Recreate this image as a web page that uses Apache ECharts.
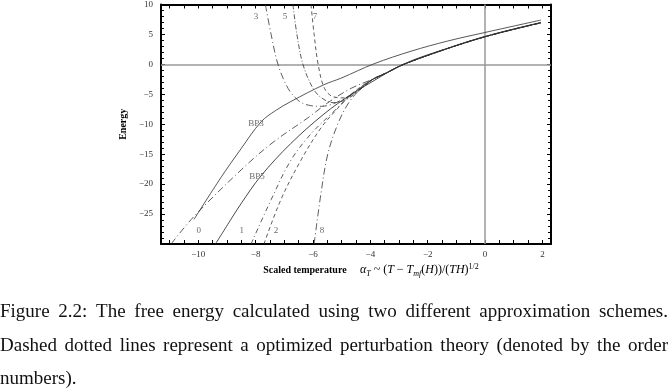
<!DOCTYPE html>
<html>
<head>
<meta charset="utf-8">
<script src="https://cdn.jsdelivr.net/npm/echarts@6/dist/echarts.min.js"></script>
<style>
html,body{margin:0;padding:0;background:#fff;}
#chart{width:670px;height:388px;}
</style>
</head>
<body>
<div id="chart"></div>
<script>
// 坐标轴刻度
const xLabelValues = [-10, -8, -6, -4, -2, 0, 2];
const xTickValues = [-11, -10.5, -10, -9.5, -9, -8.5, -8, -7.5, -7, -6.5, -6, -5.5, -5, -4.5, -4, -3.5, -3, -2.5, -2, -1.5, -1, -0.5, 0, 0.5, 1, 1.5, 2];

// 实线: BP3, BP5
const bp3 = [[-10.15, -25.9], [-9.21, -18.9], [-8.51, -14.1], [-7.81, -9.6], [-7.3, -7.7], [-6.77, -6.2], [-5.62, -3.4], [-5.02, -2.3], [-3.87, 0.1], [-2.58, 2.2], [-1.3, 3.9], [-0.03, 5.3], [1.95, 7.4]];
const bp5 = [[-9.4, -30], [-8.85, -25.8], [-8.5, -23.2], [-7.81, -18.6], [-6.77, -13.2], [-5.62, -8.3], [-4.67, -5.0], [-4.08, -3.3], [-2.86, 0], [-1.43, 2.5], [0.1, 4.8], [1.95, 7.0]];

// 微扰论各阶 (点划线), 汇合后共用的尾段
const tail = [[-3.9, -2.45], [-3.45, -1.45], [-2.86, -0.05], [-1.43, 2.45], [0.1, 4.75], [1.95, 6.95]];
const order0 = [[-10.95, -30], [-10.15, -25.4], [-8.41, -17.2], [-7.36, -12.9], [-6.17, -8.9], [-5.48, -6.4], [-4.67, -4.0]];
const order1 = [[-8.16, -30], [-7.46, -22.6], [-6.77, -16.0], [-6.07, -11.6], [-5.37, -8.3], [-4.78, -5.6], [-4.35, -3.9]];
const order2 = [[-7.71, -30], [-7.12, -22.6], [-6.42, -16.0], [-5.72, -10.6], [-5.13, -7.3], [-4.67, -5.0], [-4.26, -3.5]];
const order8 = [[-5.96, -30], [-5.72, -21.5], [-5.48, -14.9], [-5.13, -9.9], [-4.78, -6.6], [-4.43, -4.5], [-4.12, -3.1]];
const order3 = [[-7.66, 10], [-7.46, 5.0], [-7.22, 0], [-6.87, -4.0], [-6.52, -6.0], [-6.17, -6.8], [-5.7, -7.0], [-5.2, -6.4], [-4.6, -4.9], [-4.2, -3.6]];
const order5 = [[-6.70, 10], [-6.56, 5.0], [-6.35, 0], [-6.0, -4.0], [-5.7, -5.6], [-5.3, -6.4], [-4.85, -5.9], [-4.4, -4.4]];
const order7 = [[-6.07, 10], [-5.96, 5.0], [-5.82, 0], [-5.6, -4.0], [-5.3, -5.4], [-4.9, -5.6], [-4.5, -4.6]];

// 曲线标注
const curveLabels = ['BP3', 'BP5', '0', '1', '2', '8', '3', '5', '7'];
const labelX = [-7.99, -7.95, -9.98, -8.48, -7.29, -5.69, -7.99, -6.98, -5.93];
const labelY = [-9.9, -18.8, -27.8, -27.8, -27.8, -27.8, 7.9, 7.9, 7.9];

const serif = 'Liberation Serif';
const minus = v => String(v).replace('-', '\u2212');

let chart = echarts.init(document.getElementById('chart'));

function curve(pts, dash) {
    return {
        type: 'line', data: pts, showSymbol: false, smooth: 0.35, silent: true,
        lineStyle: {color: '#333', width: 0.8, type: dash}, z: 3
    };
}

// 图注 两端对齐
const capFont = '19px "Liberation Serif"';
const capWidth = 668;
function justifyLine(line, y, justify) {
    let ctx = document.createElement('canvas').getContext('2d');
    ctx.font = capFont;
    let words = line.split(' ');
    let widths = words.map(w => ctx.measureText(w).width);
    let total = widths.reduce((a, b) => a + b, 0);
    let gap = justify ? (capWidth - total) / (words.length - 1) : ctx.measureText(' ').width;
    let x = 0;
    return words.map((w, i) => {
        let el = {type: 'text', x: x, y: y, style: {text: w, font: capFont, fill: '#111', verticalAlign: 'middle'}};
        x += widths[i] + gap;
        return el;
    });
}
let caption = [].concat(
    justifyLine('Figure 2.2: The free energy calculated using two different approximation schemes.', 312, true),
    justifyLine('Dashed dotted lines represent a optimized perturbation theory (denoted by the order', 346, true),
    justifyLine('numbers).', 379, false)
);

const axisFont = {fontFamily: serif, fontSize: 9, color: '#333'};
const frameLine = {onZero: false, lineStyle: {color: '#000', width: 2}};

let option = {
    animation: false,
    grid: {left: 161, right: 119, top: 2, bottom: 144},
    xAxis: [
        {
            type: 'value', min: -11.3, max: 2.3, position: 'bottom',
            axisLine: frameLine,
            axisTick: {inside: true, length: 4, customValues: xTickValues, lineStyle: {color: '#000'}},
            axisLabel: Object.assign({customValues: xLabelValues, formatter: minus, margin: 6}, axisFont),
            splitLine: {show: false}
        },
        {
            type: 'value', min: -11.3, max: 2.3, position: 'top',
            axisLine: frameLine,
            axisTick: {inside: true, length: 4, customValues: xTickValues, lineStyle: {color: '#000'}},
            axisLabel: {show: false},
            splitLine: {show: false}
        }
    ],
    yAxis: [
        {
            type: 'value', min: -30, max: 10, interval: 5, position: 'left',
            name: 'Energy', nameLocation: 'middle', nameGap: 31,
            nameTextStyle: {fontFamily: serif, fontWeight: 'bold', fontSize: 10, color: '#000'},
            axisLine: frameLine,
            axisTick: {inside: true, length: 4, lineStyle: {color: '#000'}},
            minorTick: {show: true, splitNumber: 5, length: 3, lineStyle: {color: '#000'}},
            axisLabel: Object.assign({formatter: v => v === -30 ? '' : minus(v), margin: 8}, axisFont),
            splitLine: {show: false}
        },
        {
            type: 'value', min: -30, max: 10, interval: 5, position: 'right',
            axisLine: frameLine,
            axisTick: {inside: true, length: 4, lineStyle: {color: '#000'}},
            minorTick: {show: true, splitNumber: 5, length: 3, lineStyle: {color: '#000'}},
            axisLabel: {show: false},
            splitLine: {show: false}
        }
    ],
    series: [
        {
            type: 'line', data: bp3, showSymbol: false, smooth: 0.35, silent: true,
            lineStyle: {color: '#444', width: 0.9}, z: 3,
            markLine: {
                silent: true, symbol: 'none', label: {show: false}, z: 1,
                lineStyle: {color: '#999', width: 1.5, type: 'solid'},
                data: [{xAxis: 0}, {yAxis: 0}]
            }
        },
        {type: 'line', data: bp5, showSymbol: false, smooth: 0.35, silent: true, lineStyle: {color: '#333', width: 0.9}, z: 3},
        curve(order0.concat(tail), [7, 3, 1, 3]),
        curve(order1.concat(tail), [5, 3, 1, 3]),
        curve(order2.concat(tail), [4, 3]),
        curve(order8.concat(tail), [7, 3, 1, 3]),
        curve(order3.concat(tail), [7, 3, 1, 3]),
        curve(order5.concat(tail), [5, 2, 1, 2]),
        curve(order7.concat(tail), [4, 3]),
        {
            type: 'scatter', symbolSize: 0, silent: true, z: 4,
            data: curveLabels.map((t, i) => ({name: t, value: [labelX[i], labelY[i]]})),
            label: {show: true, position: 'inside', formatter: '{b}', fontFamily: serif, fontSize: 9, color: '#444'}
        }
    ],
    graphic: [
        {
            type: 'text', x: 371, y: 270,
            style: {
                text: '{b|Scaled temperature}    {i|\u03B1}{sub|T}{r| ~ (}{i|T}{r| \u2212 }{i|T}{sub|mf}{r|(}{i|H}{r|))/(}{i|TH}{r|)}{sup|1/2}',
                align: 'center', verticalAlign: 'middle',
                rich: {
                    b: {fontFamily: serif, fontWeight: 'bold', fontSize: 10, fill: '#000'},
                    i: {fontFamily: serif, fontStyle: 'italic', fontSize: 12, fill: '#000'},
                    r: {fontFamily: serif, fontSize: 12, fill: '#000'},
                    sub: {fontFamily: serif, fontStyle: 'italic', fontSize: 8, fill: '#000', padding: [7, 0, 0, 0]},
                    sup: {fontFamily: serif, fontSize: 8, fill: '#000', padding: [0, 0, 7, 0]}
                }
            }
        }
    ].concat(caption)
};
chart.setOption(option);
</script>
</body>
</html>
